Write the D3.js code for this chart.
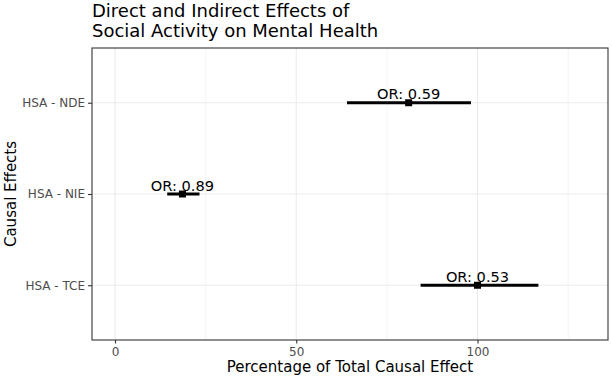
<!DOCTYPE html>
<html>
<head>
<meta charset="utf-8">
<script src="https://cdn.jsdelivr.net/npm/d3@7"></script>
<style>
  body { margin: 0; background: #fff; }
  text { font-family: "DejaVu Sans", sans-serif; }
</style>
</head>
<body>
<div id="chart"></div>
<script>
// values
const effects = ["HSA - NDE", "HSA - NIE", "HSA - TCE"];
const estimate = [81, 18.6, 100];
const lower = [64, 14.4, 84.3];
const upper = [98.2, 23.3, 116.8];
const orLabels = ["OR: 0.59", "OR: 0.89", "OR: 0.53"];
const xTicks = [0, 50, 100];
const xMinor = [25, 75, 125];

class EffectPlot {

  constructor(element) {
    this.element = element;
    this.width = 612;
    this.height = 379;
    this.margin = {top: 48, right: 4, bottom: 39, left: 92};
    this.draw();
  }

  draw() {
    this.svg = d3.select(this.element)
      .append("svg")
      .attr("width", this.width)
      .attr("height", this.height);

    this._createScales();
    this._drawGrid();
    this._drawAxes();
    this._drawMarks();
    this._drawTitles();
  }

  _createScales() {
    const m = this.margin;
    this.x = d3.scaleLinear()
      .domain([-6.35, 136])
      .range([m.left, this.width - m.right]);

    this.y = d3.scalePoint()
      .domain(effects)
      .range([m.top, this.height - m.bottom])
      .padding(0.6);
  }

  _drawGrid() {
    const m = this.margin;
    const g = this.svg.append("g");

    g.selectAll(".minor")
      .data(xMinor)
      .join("line")
        .attr("x1", d => this.x(d)).attr("x2", d => this.x(d))
        .attr("y1", m.top).attr("y2", this.height - m.bottom)
        .attr("stroke", "#ebebeb").attr("stroke-width", 0.55);

    g.selectAll(".major")
      .data(xTicks)
      .join("line")
        .attr("x1", d => this.x(d)).attr("x2", d => this.x(d))
        .attr("y1", m.top).attr("y2", this.height - m.bottom)
        .attr("stroke", "#ebebeb").attr("stroke-width", 1.1);

    g.selectAll(".hmajor")
      .data(effects)
      .join("line")
        .attr("x1", m.left).attr("x2", this.width - m.right)
        .attr("y1", d => this.y(d)).attr("y2", d => this.y(d))
        .attr("stroke", "#ebebeb").attr("stroke-width", 1.1);
  }

  _drawAxes() {
    const m = this.margin;

    const xAxis = g => g
      .attr("transform", `translate(0,${this.height - m.bottom})`)
      .call(d3.axisBottom(this.x).tickValues(xTicks).tickSize(3.5).tickPadding(3.5))
      .call(g => g.select(".domain").remove())
      .call(g => g.selectAll("line").attr("stroke", "#333").attr("stroke-width", 1.1))
      .call(g => g.selectAll("text")
        .attr("fill", "#4d4d4d")
        .attr("font-size", 12)
        .attr("font-family", "DejaVu Sans"));

    const yAxis = g => g
      .attr("transform", `translate(${m.left},0)`)
      .call(d3.axisLeft(this.y).tickSize(4).tickPadding(3))
      .call(g => g.select(".domain").remove())
      .call(g => g.selectAll("line").attr("stroke", "#333").attr("stroke-width", 1.1))
      .call(g => g.selectAll("text")
        .attr("fill", "#4d4d4d")
        .attr("font-size", 12)
        .attr("font-family", "DejaVu Sans"));

    this.svg.append("g").call(xAxis);
    this.svg.append("g").call(yAxis);

    // panel border
    this.svg.append("rect")
      .attr("x", m.left)
      .attr("y", m.top)
      .attr("width", this.width - m.left - m.right)
      .attr("height", this.height - m.top - m.bottom)
      .attr("fill", "none")
      .attr("stroke", "#333")
      .attr("stroke-width", 1.1);
  }

  _drawMarks() {
    const g = this.svg.append("g");
    const idx = d3.range(effects.length);

    g.selectAll(".bar")
      .data(idx)
      .join("line")
        .attr("x1", i => this.x(lower[i]))
        .attr("x2", i => this.x(upper[i]))
        .attr("y1", i => this.y(effects[i]))
        .attr("y2", i => this.y(effects[i]))
        .attr("stroke", "black")
        .attr("stroke-width", 3);

    g.selectAll(".pt")
      .data(idx)
      .join("rect")
        .attr("x", i => this.x(estimate[i]) - 3.5)
        .attr("y", i => this.y(effects[i]) - 3.5)
        .attr("width", 7)
        .attr("height", 7)
        .attr("fill", "black");

    g.selectAll(".lab")
      .data(idx)
      .join("text")
        .attr("x", i => this.x(estimate[i]))
        .attr("y", i => this.y(effects[i]) - 3.5)
        .attr("text-anchor", "middle")
        .attr("font-size", 14.6)
        .attr("fill", "black")
        .text(i => orLabels[i]);
  }

  _drawTitles() {
    const m = this.margin;
    const cx = (m.left + this.width - m.right) / 2;
    const cy = (m.top + this.height - m.bottom) / 2;

    const title = this.svg.append("text")
      .attr("x", m.left)
      .attr("font-size", 18)
      .attr("fill", "black");
    title.append("tspan").attr("x", m.left).attr("y", 17.3)
      .text("Direct and Indirect Effects of");
    title.append("tspan").attr("x", m.left).attr("y", 36.5)
      .text("Social Activity on Mental Health");

    this.svg.append("text")
      .attr("x", cx)
      .attr("y", 372)
      .attr("text-anchor", "middle")
      .attr("font-size", 15)
      .attr("fill", "black")
      .text("Percentage of Total Causal Effect");

    this.svg.append("text")
      .attr("transform", `translate(15.5,${cy}) rotate(-90)`)
      .attr("text-anchor", "middle")
      .attr("font-size", 15)
      .attr("fill", "black")
      .text("Causal Effects");
  }
}

new EffectPlot(document.getElementById("chart"));
</script>
</body>
</html>
